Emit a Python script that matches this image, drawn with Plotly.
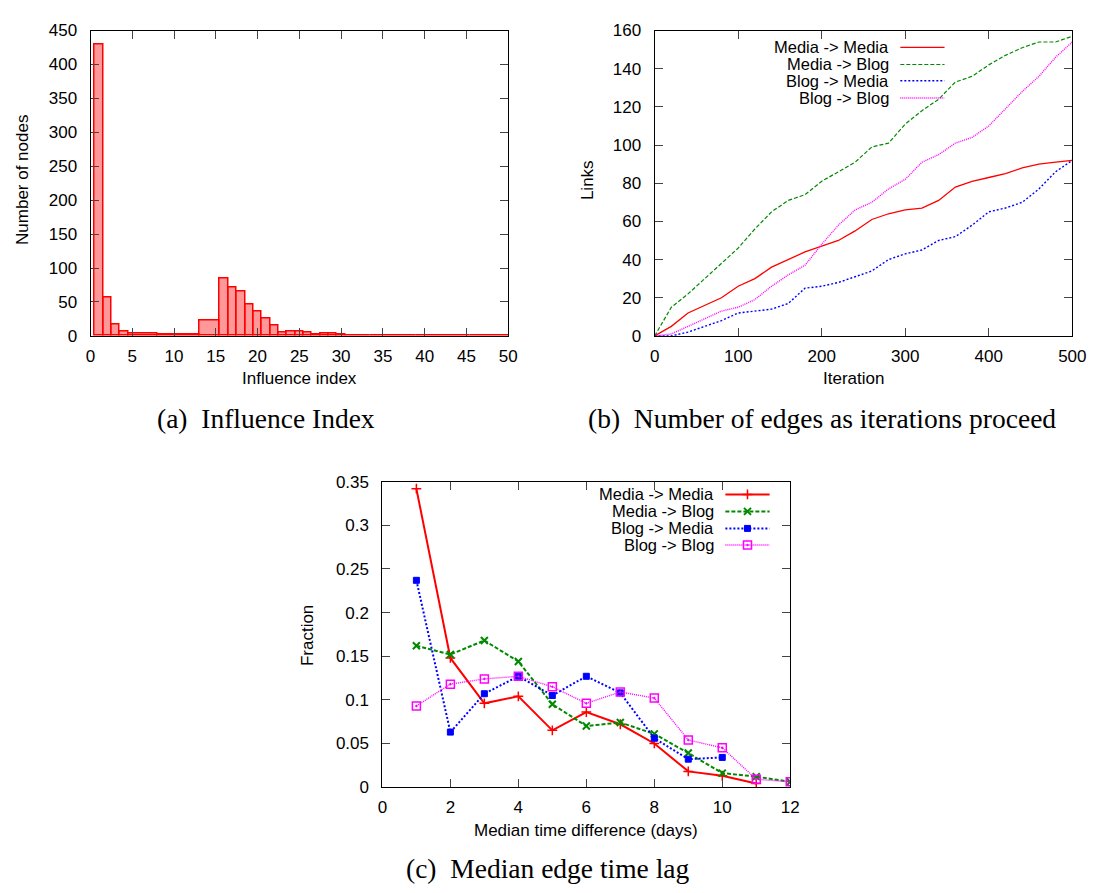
import plotly.graph_objects as go

W, H = 1104, 893

# ---------------- data ----------------
# (a) Influence index histogram (gnuplot-style boxes, auto width)
infl_index = [1, 2, 3, 4, 5, 11, 15, 16, 17, 18, 19, 20, 21, 22, 23, 24, 25, 26, 27, 28, 29, 30, 31, 36, 42, 49]
infl_nodes = [429, 57, 17, 7, 4, 2, 23, 84, 72, 65, 46, 36, 26, 15, 5, 7, 7, 5, 2, 4, 4, 2, 1, 1, 1, 1]

# (b) Number of edges vs. iteration
iteration = list(range(0, 501, 20))
links_media_media = [0, 5, 12, 16, 20, 26, 30, 36, 40, 44, 47, 50, 55, 61, 64, 66, 67, 71, 78, 81, 83, 85, 88, 90, 91, 92]
links_media_blog = [0, 15, 22, 30, 38, 46, 56, 65, 71, 74, 81, 86, 91, 99, 101, 111, 118, 124, 133, 136, 142, 147, 151, 154, 154, 157]
links_blog_media = [0, 0, 2, 5, 8, 12, 13, 14, 17, 25, 26, 28, 31, 34, 40, 43, 45, 50, 52, 58, 65, 67, 70, 77, 86, 92]
links_blog_blog = [0, 1, 5, 9, 13, 15, 19, 26, 32, 37, 48, 58, 66, 70, 77, 82, 91, 95, 101, 104, 110, 119, 128, 136, 146, 154]

# (c) Median edge time lag
days_mm = [1, 2, 3, 4, 5, 6, 7, 8, 9, 10, 11]
frac_mm = [0.342, 0.148, 0.096, 0.104, 0.065, 0.086, 0.072, 0.050, 0.018, 0.013, 0.004]
days_mb = [1, 2, 3, 4, 5, 6, 7, 8, 9, 10, 11, 12]
frac_mb = [0.162, 0.152, 0.168, 0.144, 0.095, 0.070, 0.074, 0.061, 0.039, 0.016, 0.012, 0.006]
days_bm = [1, 2, 3, 4, 5, 6, 7, 8, 9, 10]
frac_bm = [0.237, 0.063, 0.107, 0.127, 0.105, 0.127, 0.108, 0.056, 0.032, 0.034]
days_bb = [1, 2, 3, 4, 5, 6, 7, 8, 9, 10, 11, 12]
frac_bb = [0.093, 0.118, 0.124, 0.127, 0.115, 0.096, 0.109, 0.102, 0.054, 0.045, 0.009, 0.006]

series_names = ["Media -> Media", "Media -> Blog", "Blog -> Media", "Blog -> Blog"]

# ---------------- styles ----------------
RED, GREEN, BLUE, MAG = "#ff0000", "#008a00", "#0000ff", "#ff00ff"
SANS = "Liberation Sans, Arial, sans-serif"
SERIF = "Liberation Serif, Times New Roman, serif"
TICKFONT = dict(family=SANS, size=17, color="black")


def px_x(p):
    return p / W


def px_y(p):
    return 1 - p / H


# gnuplot auto box widths: each box reaches half-way to neighbours
def box_geometry(xs):
    lefts, rights = [], []
    n = len(xs)
    for i, x in enumerate(xs):
        l = (xs[i - 1] + x) / 2 if i > 0 else x - (xs[1] - x) / 2
        r = (x + xs[i + 1]) / 2 if i < n - 1 else x + (x - xs[i - 1]) / 2
        lefts.append(l)
        rights.append(r)
    centers = [(l + r) / 2 for l, r in zip(lefts, rights)]
    widths = [r - l for l, r in zip(lefts, rights)]
    return centers, widths


fig = go.Figure()

# (a)
cx, wx = box_geometry(infl_index)
fig.add_trace(go.Bar(x=cx, y=infl_nodes, width=wx, xaxis="x", yaxis="y",
                     marker=dict(color="rgba(255,0,0,0.4)", line=dict(color=RED, width=1.5)),
                     showlegend=False))

# (b)
b_styles = [(links_media_media, RED, "solid", 1.3),
            (links_media_blog, GREEN, "4px,2px", 1.2),
            (links_blog_media, BLUE, "2px,2px", 1.4),
            (links_blog_blog, MAG, "1px,1px", 1.4)]
for (vals, col, dash, lw) in b_styles:
    fig.add_trace(go.Scatter(x=iteration, y=vals, mode="lines", xaxis="x2", yaxis="y2",
                             line=dict(color=col, dash=dash, width=lw), showlegend=False))

# (c)
c_styles = [(days_mm, frac_mm, RED, "solid", 2, "cross-thin-open", 7, 1.5),
            (days_mb, frac_mb, GREEN, "4px,2px", 2, "x-thin-open", 7, 2),
            (days_bm, frac_bm, BLUE, "2px,2px", 2, "square", 6, 1),
            (days_bb, frac_bb, MAG, "1px,1px", 1.4, "square-open-dot", 8, 1.5)]
for (xs, ys, col, dash, lw, sym, ms, mlw) in c_styles:
    fig.add_trace(go.Scatter(x=xs, y=ys, mode="lines+markers", xaxis="x3", yaxis="y3",
                             line=dict(color=col, dash=dash, width=lw),
                             marker=dict(symbol=sym, size=ms, color=col, line=dict(color=col, width=mlw)),
                             showlegend=False))

# legend samples drawn on a transparent pixel-space overlay axis
leg_c_rows = [496, 513.3, 530.7, 547.7]
for (xs, ys, col, dash, lw, sym, ms, mlw), yy in zip(c_styles, leg_c_rows):
    fig.add_trace(go.Scatter(x=[733, 778], y=[yy, yy], mode="lines", xaxis="x4", yaxis="y4",
                             line=dict(color=col, dash=dash, width=lw), showlegend=False, hoverinfo="skip"))
    fig.add_trace(go.Scatter(x=[755.5], y=[yy], mode="markers", xaxis="x4", yaxis="y4",
                             marker=dict(symbol=sym, size=ms, color=col, line=dict(color=col, width=mlw)),
                             showlegend=False, hoverinfo="skip"))

leg_b_rows = [39.3, 56.7, 73.3, 91]
for (vals, col, dash, lw), yy in zip(b_styles, leg_b_rows):
    fig.add_trace(go.Scatter(x=[911, 956], y=[yy, yy], mode="lines", xaxis="x4", yaxis="y4",
                             line=dict(color=col, dash=dash, width=lw), showlegend=False, hoverinfo="skip"))


def axis(domain, rng, dtick, anchor, standoff, **kw):
    d = dict(domain=domain, range=rng, dtick=dtick, tick0=0, anchor=anchor,
             showline=True, linecolor="black", linewidth=1, mirror="ticks",
             ticks="inside", ticklen=8, tickwidth=1, tickcolor="#444",
             showgrid=False, zeroline=False, tickfont=TICKFONT, ticklabelstandoff=standoff)
    d.update(kw)
    return d


ya_dom = [px_y(334), px_y(22)]
fig.update_layout(
    width=W, height=H, margin=dict(l=0, r=0, t=0, b=0),
    paper_bgcolor="white", plot_bgcolor="rgba(0,0,0,0)",
    bargap=0,
    xaxis=axis([px_x(87), px_x(512)], [0, 50], 5, "y", 5),
    yaxis=axis(ya_dom, [0, 450], 50, "x", 9),
    xaxis2=axis([px_x(661), px_x(1086)], [0, 500], 100, "y2", 5),
    yaxis2=axis(ya_dom, [0, 160], 20, "x2", 9),
    xaxis3=axis([px_x(384), px_x(799)], [0, 12], 2, "y3", 5),
    yaxis3=axis([px_y(795), px_y(483)], [0, 0.35], 0.05, "x3", 9),
    xaxis4=dict(domain=[0, 1], range=[0, W], visible=False, anchor="y4", fixedrange=True),
    yaxis4=dict(domain=[0, 1], range=[H, 0], visible=False, anchor="x4", fixedrange=True),
)

ann = []


def text(x, y, s, size=17, family=SANS, angle=0, xanchor="center"):
    ann.append(dict(x=px_x(x), y=px_y(y), xref="paper", yref="paper", text=s, showarrow=False,
                    font=dict(family=family, size=size, color="black"), textangle=angle,
                    xanchor=xanchor, yanchor="middle", borderpad=0))


# axis titles
text(300, 378, "Influence index")
text(18, 175, "Number of nodes", angle=-90)
text(863, 378, "Iteration")
text(592, 175, "Links", angle=-90)
text(591, 839, "Median time difference (days)")
text(308, 640, "Fraction", angle=-90)

# legend labels
for name, yy in zip(series_names, leg_b_rows):
    text(900, yy, name, size=16.5, xanchor="right")
for name, yy in zip(series_names, leg_c_rows):
    text(722, yy, name, size=16.5, xanchor="right")

# captions
text(266, 418, "(a)  Influence Index", size=27.5, family=SERIF)
text(831, 418, "(b)  Number of edges as iterations proceed", size=27.5, family=SERIF)
text(553, 878, "(c)  Median edge time lag", size=27.5, family=SERIF)

fig.update_layout(annotations=ann)
fig.write_html("out.html")
